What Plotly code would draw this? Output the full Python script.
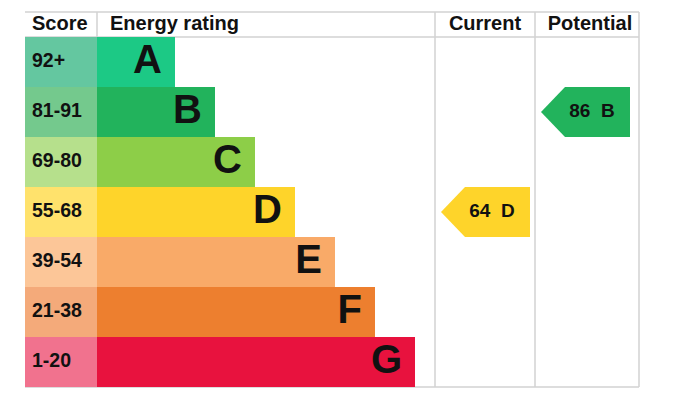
import plotly.graph_objects as go

# ---- data ----
bands = ["A", "B", "C", "D", "E", "F", "G"]
score_ranges = ["92+", "81-91", "69-80", "55-68", "39-54", "21-38", "1-20"]
band_min_score = [92, 81, 69, 55, 39, 21, 1]
bar_lengths = [78, 118, 158, 198, 238, 278, 318]
headers = ["Score", "Energy rating", "Current", "Potential"]
current_score = 64
potential_score = 86

# ---- styles ----
bar_colors = ["#1cc985", "#22b35c", "#8dce48", "#fed42a", "#f9aa68", "#ed7f2f", "#e8123e"]
score_colors = ["#64c7a0", "#74c98d", "#b6e08c", "#ffe26c", "#fcc698", "#f4aa7a", "#f1728e"]
grid_color = "#d2d2d2"
FONT = "Liberation Sans, Arial, sans-serif"

# ---- layout geometry (pixels of the page) ----
W, H = 675, 416
PAGE_OFF = 8  # default body margin of the page
TABLE_L, SCORE_R, CUR_L, POT_L, TABLE_R = 25, 97, 435, 535, 639
TOP, HEAD_B, ROW_H = 12, 37, 50
BOTTOM = HEAD_B + ROW_H * len(bands)

row_c = [HEAD_B + ROW_H * (i + 0.5) for i in range(len(bands))]


def band_index(score):
    for i, m in enumerate(band_min_score):
        if score >= m:
            return i
    return len(bands) - 1


fig = go.Figure()

# score cells
fig.add_trace(go.Bar(
    orientation="h", y=row_c, x=[SCORE_R - TABLE_L] * len(bands), base=TABLE_L,
    width=ROW_H, marker=dict(color=score_colors, line=dict(width=0)),
    hoverinfo="skip", showlegend=False))
# rating bars
fig.add_trace(go.Bar(
    orientation="h", y=row_c, x=bar_lengths, base=SCORE_R,
    width=ROW_H, marker=dict(color=bar_colors, line=dict(width=0)),
    hoverinfo="skip", showlegend=False))

# score labels
fig.add_trace(go.Scatter(
    x=[TABLE_L + 7] * len(bands), y=row_c, mode="text",
    text=[f"<b>{s}</b>" for s in score_ranges], textposition="middle right",
    textfont=dict(family=FONT, size=19.5, color="#111111"),
    hoverinfo="skip", showlegend=False))
# band letters
fig.add_trace(go.Scatter(
    x=[SCORE_R + L - 13 for L in bar_lengths], y=[c + 1 for c in row_c], mode="text",
    text=[f"<b>{b}</b>" for b in bands], textposition="middle left",
    textfont=dict(family=FONT, size=40, color="#111111"),
    hoverinfo="skip", showlegend=False))

# arrows
for score, col_l, col_r in [(current_score, CUR_L, POT_L), (potential_score, POT_L, TABLE_R)]:
    i = band_index(score)
    c = row_c[i]
    top, bot = c - ROW_H / 2, c + ROW_H / 2
    tip = col_l + 6
    sh = tip + ROW_H / 2 - 1
    right = col_r - 5 if col_r == POT_L else col_r - 9
    fig.add_trace(go.Scatter(
        x=[tip, sh, right, right, sh, tip], y=[c, top, top, bot, bot, c],
        mode="lines", fill="toself", fillcolor=bar_colors[i],
        line=dict(width=0, color=bar_colors[i]), hoverinfo="skip", showlegend=False))
    fig.add_trace(go.Scatter(
        x=[tip + 51], y=[c], mode="text",
        text=[f"<b>{score}\u00a0\u00a0{bands[i]}</b>"], textposition="middle center",
        textfont=dict(family=FONT, size=19, color="#111111"),
        hoverinfo="skip", showlegend=False))

# headers
head_y = (TOP + HEAD_B) / 2
fig.add_trace(go.Scatter(
    x=[TABLE_L + 7, SCORE_R + 13], y=[head_y, head_y], mode="text",
    text=[f"<b>{headers[0]}</b>", f"<b>{headers[1]}</b>"], textposition="middle right",
    textfont=dict(family=FONT, size=20, color="#111111"),
    hoverinfo="skip", showlegend=False))
fig.add_trace(go.Scatter(
    x=[(CUR_L + POT_L) / 2, (POT_L + TABLE_R) / 2 + 3], y=[head_y, head_y], mode="text",
    text=[f"<b>{headers[2]}</b>", f"<b>{headers[3]}</b>"], textposition="middle center",
    textfont=dict(family=FONT, size=20, color="#111111"),
    hoverinfo="skip", showlegend=False))

# grid lines
lines = [
    (TABLE_L, TOP, TABLE_R, TOP),
    (TABLE_L, HEAD_B, TABLE_R, HEAD_B),
    (TABLE_L, BOTTOM, TABLE_R, BOTTOM),
    (SCORE_R, TOP, SCORE_R, HEAD_B),
    (CUR_L, TOP, CUR_L, BOTTOM),
    (POT_L, TOP, POT_L, BOTTOM),
    (TABLE_R, TOP, TABLE_R, BOTTOM),
]
shapes = [dict(type="line", xref="x", yref="y", x0=a, y0=b, x1=c_, y1=d,
               line=dict(color=grid_color, width=1.5), layer="below")
          for a, b, c_, d in lines]

fig.update_layout(
    width=W - PAGE_OFF, height=H - PAGE_OFF, margin=dict(l=0, r=0, t=0, b=0),
    paper_bgcolor="white", plot_bgcolor="white",
    barmode="overlay", bargap=0, showlegend=False, shapes=shapes,
    xaxis=dict(range=[PAGE_OFF, W], visible=False, fixedrange=True),
    yaxis=dict(range=[H, PAGE_OFF], visible=False, fixedrange=True),
)

fig.write_html("out.html", config={"displayModeBar": False})
